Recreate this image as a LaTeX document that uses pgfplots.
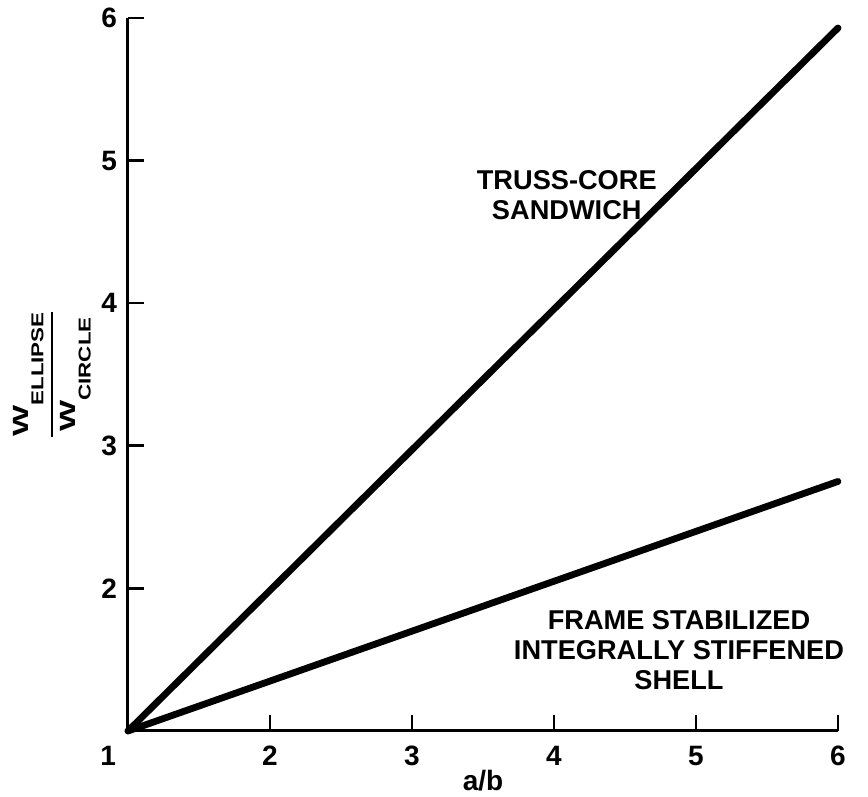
\documentclass[border=0pt]{standalone}
\usepackage{amsmath}
\usepackage{graphicx}
\usepackage{fontspec}
\setmainfont{Liberation Sans}
\usepackage{pgfplots}
\pgfplotsset{compat=1.18}

\newcommand{\lblfont}{\fontsize{13.6}{15}\selectfont\bfseries}
\newcommand{\wsub}[1]{\mbox{\bfseries\scalebox{1.5}[1]{\fontsize{11}{11}\selectfont W}\raisebox{-7.5pt}{\scalebox{1.3}[1]{\fontsize{8.6}{9}\selectfont #1}}}}

\begin{document}
\begin{tikzpicture}
\useasboundingbox (-64pt,-33pt) rectangle (370pt,365.5pt);
\begin{axis}[
    scale only axis,
    width=355pt,
    height=356.5pt,
    xmin=1, xmax=6,
    ymin=1, ymax=6,
    clip=false,
    axis x line*=bottom,
    axis y line*=left,
    axis line style={-, line width=1.5pt},
    every non boxed x axis/.append style={xtick align=inside},
    every non boxed y axis/.append style={ytick align=inside},
    xtick={1,2,3,4,5,6},
    ytick={2,3,4,5,6},
    xticklabels={\llap{1\hspace{6pt}},2,3,4,5,6},
    xtick align=inside,
    ytick align=inside,
    major tick length=8pt,
    every tick/.style={black, line width=1.3pt},
    /pgf/number format/assume math mode=true,
    ticklabel style={font=\fontsize{14}{15}\selectfont\bfseries},
    xticklabel style={yshift=-4pt},
    yticklabel style={xshift=-2pt},
    xlabel={a/b},
    xlabel style={at={(axis description cs:0.5,0)}, anchor=center, yshift=-25pt,
        font=\fontsize{14}{15}\selectfont\bfseries},
    ylabel={$\genfrac{}{}{1.2pt}{0}{\wsub{ELLIPSE}}{\wsub{CIRCLE}}$},
    ylabel style={at={(axis description cs:0,0.5)}, anchor=center, yshift=38pt},
]
% truss-core sandwich
\addplot[black, line width=3.4pt, line cap=round] coordinates {(1,1) (6,5.93)};
% frame stabilized integrally stiffened shell
\addplot[black, line width=3.4pt, line cap=round] coordinates {(1,1) (6,2.75)};

\node[align=center, font=\lblfont] at (axis cs:4.09,4.76) {TRUSS-CORE\\SANDWICH};
\node[align=center, font=\lblfont] at (axis cs:4.88,1.57) {FRAME STABILIZED\\INTEGRALLY STIFFENED\\SHELL};
\end{axis}
\end{tikzpicture}
\end{document}
